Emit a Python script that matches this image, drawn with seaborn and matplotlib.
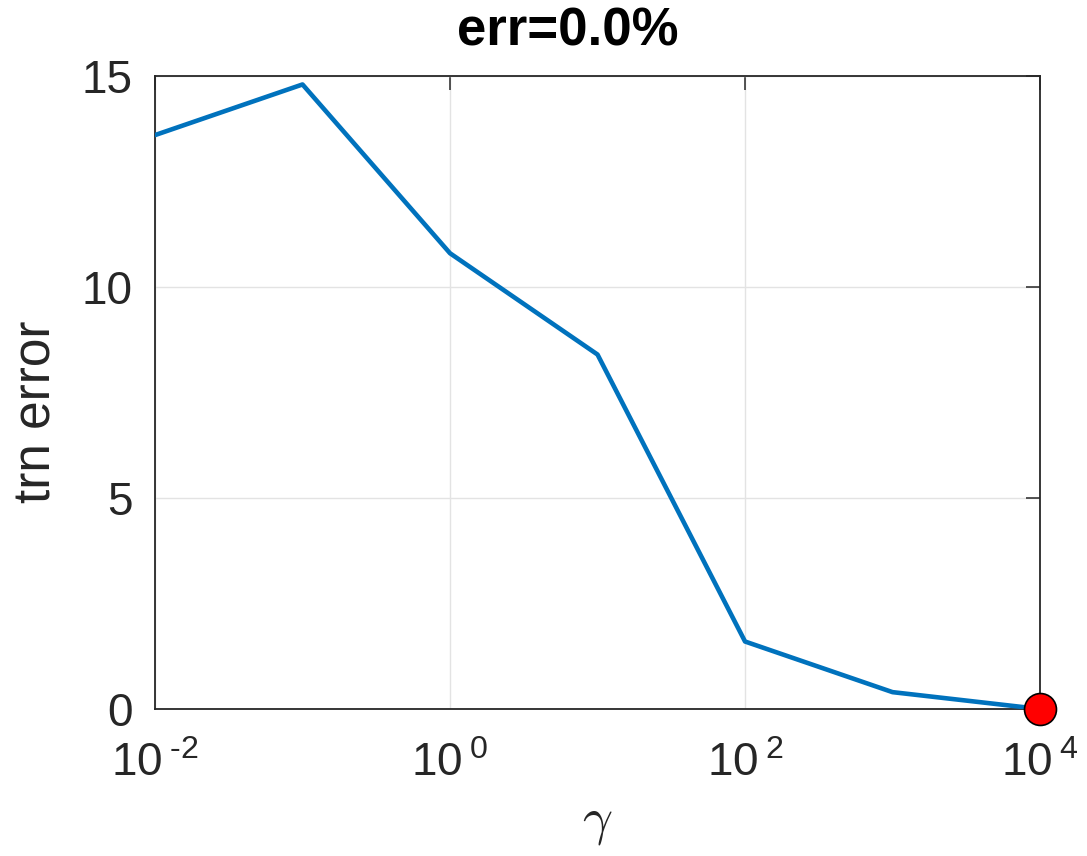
import numpy as np
import pandas as pd
import matplotlib
matplotlib.use("Agg")
import matplotlib.pyplot as plt
import seaborn as sns
from matplotlib.ticker import FixedLocator, FuncFormatter, NullLocator

# Regularisation sweep and the training error at each value
gamma = [1e-2, 1e-1, 1e0, 1e1, 1e2, 1e3, 1e4]
trn_error = [13.6, 14.8, 10.8, 8.4, 1.6, 0.4, 0.0]
best_gamma = 1e4
best_error = 0.0
x_ticks = [1e-2, 1e0, 1e2, 1e4]
y_ticks = [0, 5, 10, 15]
title_text = "err=0.0%"

sns.set_theme(style="white")
plt.rcParams["font.family"] = ["Liberation Sans", "DejaVu Sans"]
plt.rcParams["mathtext.fontset"] = "custom"
plt.rcParams["mathtext.rm"] = "Liberation Sans"
plt.rcParams["mathtext.default"] = "regular"

df = pd.DataFrame({"gamma": gamma, "err": trn_error})

fig = plt.figure(figsize=(10.87, 8.56), dpi=100)
ax = fig.add_axes([0.1426, 0.1717, 0.8142, 0.7395])

sns.lineplot(data=df, x="gamma", y="err", ax=ax, color="#0072BD",
             linewidth=3.3, zorder=3)
ax.plot([best_gamma], [best_error], marker="o", markersize=23,
        markerfacecolor="#FF0000", markeredgecolor="black",
        markeredgewidth=1.2, linestyle="none", zorder=4, clip_on=False)

ax.set_xscale("log")
ax.set_xlim(1e-2, 1e4)
ax.set_ylim(0, 15)
ax.xaxis.set_major_locator(FixedLocator(x_ticks))
ax.xaxis.set_minor_locator(NullLocator())
ax.yaxis.set_major_locator(FixedLocator(y_ticks))


def pow_label(v, pos):
    e = int(round(np.log10(v)))
    return r"$10^{\:\text{%d}}$" % e


ax.xaxis.set_major_formatter(FuncFormatter(pow_label))

ax.grid(True, color="#e3e3e3", linewidth=1.0)
ax.set_axisbelow(True)
for s in ax.spines.values():
    s.set_color("#262626")
    s.set_linewidth(1.3)
    s.set_visible(True)

ax.tick_params(axis="both", which="major", direction="in", length=10,
               width=1.1, color="#262626", top=True, right=True,
               labelsize=33, labelcolor="#262626")
ax.tick_params(axis="x", pad=24)
ax.tick_params(axis="y", pad=16)

ax.set_xlabel(r"$\mathit{\gamma}$", fontsize=38, math_fontfamily="cm",
              color="#262626", labelpad=8)
ax.set_ylabel("trn error", fontsize=37, color="#262626")
ax.yaxis.set_label_coords(-0.106, 0.47)
ax.set_title(title_text, fontsize=38, fontweight="bold", color="black",
             pad=22, x=0.4667)

fig.savefig("out.png", dpi=100)
